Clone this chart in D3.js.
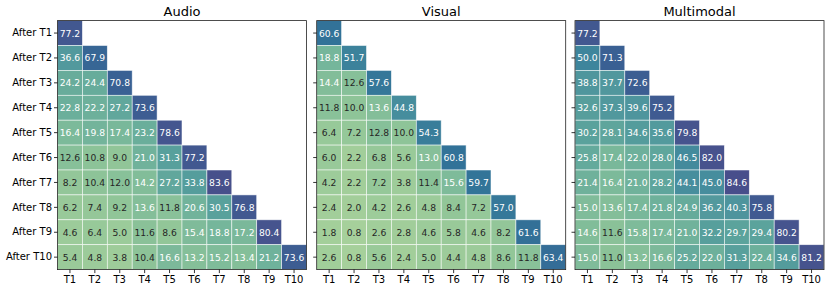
<!DOCTYPE html>
<html><head><meta charset="utf-8">
<script src="https://cdn.jsdelivr.net/npm/d3@7"></script>
<style>body{margin:0;background:#fff}svg{display:block}text{font-family:"DejaVu Sans",sans-serif}</style>
</head><body><svg id="c" width="830" height="292"></svg>
<script>
const tasks = ["T1","T2","T3","T4","T5","T6","T7","T8","T9","T10"];
const rowLabels = ["After T1","After T2","After T3","After T4","After T5","After T6","After T7","After T8","After T9","After T10"];
const panelTitles = ["Audio","Visual","Multimodal"];
const audio = [
 [77.2],
 [36.6,67.9],
 [24.2,24.4,70.8],
 [22.8,22.2,27.2,73.6],
 [16.4,19.8,17.4,23.2,78.6],
 [12.6,10.8,9.0,21.0,31.3,77.2],
 [8.2,10.4,12.0,14.2,27.2,33.8,83.6],
 [6.2,7.4,9.2,13.6,11.8,20.6,30.5,76.8],
 [4.6,6.4,5.0,11.6,8.6,15.4,18.8,17.2,80.4],
 [5.4,4.8,3.8,10.4,16.6,13.2,15.2,13.4,21.2,73.6]
];
const visual = [
 [60.6],
 [18.8,51.7],
 [14.4,12.6,57.6],
 [11.8,10.0,13.6,44.8],
 [6.4,7.2,12.8,10.0,54.3],
 [6.0,2.2,6.8,5.6,13.0,60.8],
 [4.2,2.2,7.2,3.8,11.4,15.6,59.7],
 [2.4,2.0,4.2,2.6,4.8,8.4,7.2,57.0],
 [1.8,0.8,2.6,2.8,4.6,5.8,4.6,8.2,61.6],
 [2.6,0.8,5.6,2.4,5.0,4.4,4.8,8.6,11.8,63.4]
];
const multimodal = [
 [77.2],
 [50.0,71.3],
 [38.8,37.7,72.6],
 [32.6,37.3,39.6,75.2],
 [30.2,28.1,34.6,35.6,79.8],
 [25.8,17.4,22.0,28.0,46.5,82.0],
 [21.4,16.4,21.0,28.2,44.1,45.0,84.6],
 [15.0,13.6,17.4,21.8,24.9,36.2,40.3,75.8],
 [14.6,11.6,15.8,17.4,21.0,32.2,29.7,29.4,80.2],
 [15.0,11.0,13.2,16.6,25.2,22.0,31.3,22.4,34.6,81.2]
];
const panels = [audio, visual, multimodal];

// crest-like colour ramp
const stopVals = [0,10,20,30,40,50,60,70,80,90];
const stopCols = ["#a8d19b","#8ec498","#72b49b","#5aa29c","#4e949d","#3e859c","#327398","#386294","#46548e","#4a4887"];
const color = d3.scaleLinear().domain(stopVals).range(stopCols).interpolate(d3.interpolateRgb).clamp(true);

const svg = d3.select("#c");
const x0s = [57.5, 316.7, 575];
const topY = 20.6, size = 249;

panels.forEach((data, p) => {
  const g = svg.append("g").attr("transform", `translate(${x0s[p]},${topY})`);
  const x = d3.scaleBand().domain(tasks).range([0, size]);
  const y = d3.scaleBand().domain(rowLabels).range([0, size]);
  const cells = [];
  data.forEach((row, i) => row.forEach((v, j) => cells.push({r: rowLabels[i], c: tasks[j], v})));
  g.selectAll("rect.cell").data(cells).join("rect").attr("class","cell")
    .attr("x", d => x(d.c)).attr("y", d => y(d.r))
    .attr("width", x.bandwidth()).attr("height", y.bandwidth())
    .attr("fill", d => color(d.v)).attr("stroke", "rgba(255,255,255,0.75)").attr("stroke-width", 0.7);
  g.selectAll("text.ann").data(cells).join("text").attr("class","ann")
    .attr("x", d => x(d.c) + x.bandwidth()/2).attr("y", d => y(d.r) + y.bandwidth()/2)
    .attr("text-anchor","middle").attr("dominant-baseline","central")
    .attr("font-size", 9.2)
    .attr("fill", d => d.v >= 12.9 ? "#ffffff" : "#262626")
    .text(d => d.v.toFixed(1));
  g.append("rect").attr("x",0).attr("y",0).attr("width",size).attr("height",size)
    .attr("fill","none").attr("stroke","#222").attr("stroke-width",0.8);
  const xa = g.append("g").attr("transform",`translate(0,${size})`)
    .call(d3.axisBottom(x).tickSize(3.5).tickPadding(3));
  xa.select(".domain").remove();
  xa.selectAll("text").attr("font-size",10).attr("fill","#000").attr("font-family","DejaVu Sans");
  xa.selectAll("line").attr("stroke","#000").attr("stroke-width",0.8);
  const ya = g.append("g").call(d3.axisLeft(y).tickSize(3.5).tickPadding(2).tickFormat(p === 0 ? (d => d) : () => ""));
  ya.select(".domain").remove();
  ya.selectAll("text").attr("font-size",10).attr("fill","#000").attr("font-family","DejaVu Sans");
  ya.selectAll("line").attr("stroke","#000").attr("stroke-width",0.8);
  g.append("text").attr("x", size/2).attr("y", -5).attr("text-anchor","middle")
    .attr("font-size",13).attr("fill","#000").text(panelTitles[p]);
});
</script></body></html>
